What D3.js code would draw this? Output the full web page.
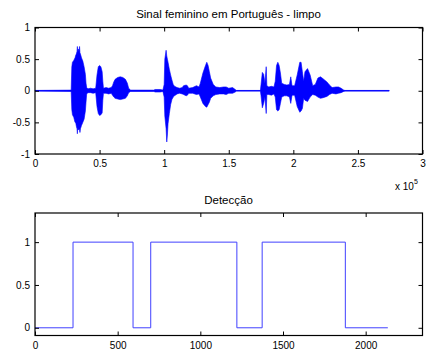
<!DOCTYPE html>
<html>
<head>
<meta charset="utf-8">
<script src="https://cdn.jsdelivr.net/npm/d3@7"></script>
<style>
  html, body { margin: 0; padding: 0; background: #fff; }
  svg { display: block; }
  text { font-family: "Liberation Sans", Arial, sans-serif; fill: #000; }
</style>
</head>
<body>
<svg id="fig" width="426" height="356"></svg>
<script>
// Signal envelope: position (x 10^5 samples), upper and lower amplitude
const WAVE_X = [0, 0.28, 0.285, 0.29, 0.30, 0.31, 0.315, 0.32, 0.325, 0.328, 0.331, 0.335, 0.34, 0.345, 0.348, 0.352, 0.36, 0.37, 0.38, 0.39, 0.395, 0.40,
  0.41, 0.43, 0.45, 0.47, 0.48, 0.49, 0.50, 0.51, 0.52, 0.525, 0.53, 0.55, 0.57, 0.59,
  0.60, 0.61, 0.62, 0.64, 0.66, 0.68, 0.70, 0.715, 0.725, 0.74, 0.92, 0.93, 0.97, 0.99,
  1.00, 1.005, 1.015, 1.02, 1.025, 1.03, 1.04, 1.05, 1.06, 1.07, 1.08, 1.10, 1.12, 1.14, 1.15, 1.17, 1.18, 1.19, 1.22, 1.25, 1.27,
  1.28, 1.30, 1.32, 1.33, 1.34, 1.35, 1.36, 1.38, 1.40, 1.43, 1.46, 1.48, 1.50, 1.53, 1.55, 1.56,
  1.745, 1.75, 1.76, 1.77, 1.78, 1.79, 1.795, 1.81, 1.83, 1.85, 1.86, 1.87, 1.88, 1.89, 1.90, 1.91, 1.93, 1.95, 1.97, 1.98, 1.99,
  2.01, 2.03, 2.05, 2.06, 2.07, 2.08, 2.09, 2.11, 2.13, 2.15, 2.17, 2.19, 2.21, 2.23, 2.26, 2.28, 2.30, 2.33, 2.35, 2.37, 2.39, 2.40, 2.742];
const WAVE_HI = [0.005, 0.01, 0.38, 0.45, 0.48, 0.52, 0.56, 0.58, 0.62, 0.70, 0.60, 0.66, 0.62, 0.70, 0.60, 0.58, 0.52, 0.47, 0.38, 0.26, 0.12, 0.05,
  0.03, 0.04, 0.03, 0.04, 0.25, 0.38, 0.40, 0.38, 0.30, 0.15, 0.04, 0.05, 0.04, 0.05,
  0.08, 0.14, 0.18, 0.21, 0.22, 0.21, 0.18, 0.12, 0.04, 0.01, 0.01, 0.02, 0.02, 0.01,
  0.10, 0.50, 0.64, 0.55, 0.50, 0.45, 0.34, 0.25, 0.17, 0.10, 0.07, 0.05, 0.04, 0.05, 0.08, 0.09, 0.08, 0.04, 0.05, 0.08, 0.06,
  0.12, 0.28, 0.40, 0.45, 0.40, 0.30, 0.20, 0.10, 0.06, 0.05, 0.06, 0.06, 0.04, 0.05, 0.02, 0.005,
  0.005, 0.10, 0.29, 0.26, 0.12, 0.38, 0.08, 0.06, 0.07, 0.06, 0.15, 0.40, 0.45, 0.40, 0.28, 0.12, 0.10, 0.09, 0.10, 0.22, 0.08,
  0.08, 0.25, 0.45, 0.45, 0.30, 0.15, 0.30, 0.35, 0.25, 0.08, 0.10, 0.20, 0.22, 0.19, 0.14, 0.09, 0.05, 0.06, 0.06, 0.04, 0.01, 0.005, 0.005];
const WAVE_LO = [-0.005, -0.01, -0.30, -0.38, -0.42, -0.50, -0.50, -0.56, -0.60, -0.68, -0.58, -0.62, -0.60, -0.62, -0.66, -0.60, -0.55, -0.50, -0.45, -0.32, -0.18, -0.05,
  -0.03, -0.03, -0.04, -0.03, -0.25, -0.36, -0.39, -0.38, -0.35, -0.15, -0.04, -0.04, -0.05, -0.04,
  -0.07, -0.10, -0.12, -0.13, -0.14, -0.13, -0.12, -0.08, -0.03, -0.01, -0.01, -0.02, -0.02, -0.01,
  -0.10, -0.40, -0.60, -0.81, -0.70, -0.52, -0.36, -0.22, -0.14, -0.10, -0.08, -0.05, -0.04, -0.05, -0.06, -0.08, -0.07, -0.04, -0.04, -0.06, -0.05,
  -0.10, -0.20, -0.25, -0.26, -0.22, -0.18, -0.12, -0.08, -0.06, -0.05, -0.05, -0.06, -0.04, -0.04, -0.02, -0.005,
  -0.005, -0.08, -0.27, -0.20, -0.10, -0.36, -0.06, -0.06, -0.07, -0.05, -0.10, -0.30, -0.32, -0.30, -0.20, -0.10, -0.08, -0.08, -0.10, -0.20, -0.07,
  -0.07, -0.25, -0.34, -0.32, -0.28, -0.12, -0.15, -0.17, -0.10, -0.06, -0.07, -0.10, -0.12, -0.11, -0.09, -0.06, -0.04, -0.05, -0.04, -0.03, -0.01, -0.005, -0.005];

// Voice activity detection per frame
const DET_X = [0, 230, 593, 700, 1221, 1374, 1877, 2134];
const DET_Y = [0, 1, 0, 1, 0, 1, 0, 0];

const TOP_XTICKS = [0, 0.5, 1, 1.5, 2, 2.5, 3];
const TOP_YTICKS = [-1, -0.5, 0, 0.5, 1];
const BOT_XTICKS = [0, 500, 1000, 1500, 2000];
const BOT_YTICKS = [0, 0.5, 1];

const TITLE_TOP = "Sinal feminino em Português - limpo";
const TITLE_BOT = "Detecção";

const svg = d3.select("#fig");
const FS = 10;
const FS_TITLE = 11.5;

function frame(g, x, y) {
  const [x0, x1] = x.range();
  const [y0, y1] = y.range();
  g.append("rect")
    .attr("x", x0).attr("y", y1)
    .attr("width", x1 - x0).attr("height", y0 - y1)
    .attr("fill", "none").attr("stroke", "#000").attr("stroke-width", 1.2);
}

function axes(g, x, y, xt, yt, xfmt, yfmt) {
  const [x0, x1] = x.range();
  const [y0, y1] = y.range();
  const styleAxis = a => {
    a.select(".domain").remove();
    a.selectAll("line").attr("stroke", "#000").attr("stroke-width", 1);
    a.selectAll("text").attr("font-size", FS).attr("font-family", "Liberation Sans, Arial, sans-serif");
  };
  g.append("g").attr("transform", `translate(0,${y0})`)
    .call(d3.axisBottom(x).tickValues(xt).tickFormat(xfmt).tickSizeInner(-4).tickSizeOuter(0).tickPadding(6))
    .call(styleAxis);
  g.append("g").attr("transform", `translate(0,${y1})`)
    .call(d3.axisTop(x).tickValues(xt).tickFormat("").tickSizeInner(-4).tickSizeOuter(0))
    .call(styleAxis);
  g.append("g").attr("transform", `translate(${x0},0)`)
    .call(d3.axisLeft(y).tickValues(yt).tickFormat(yfmt).tickSizeInner(-4).tickSizeOuter(0).tickPadding(5))
    .call(styleAxis);
  g.append("g").attr("transform", `translate(${x1},0)`)
    .call(d3.axisRight(y).tickValues(yt).tickFormat("").tickSizeInner(-4).tickSizeOuter(0))
    .call(styleAxis);
  frame(g, x, y);
}

const fmt = d => String(d);

// ---- Top: waveform ----
const xT = d3.scaleLinear().domain([0, 3]).range([35, 422.5]);
const yT = d3.scaleLinear().domain([-1, 1]).range([154, 27.5]);
const gT = svg.append("g");

const wave = WAVE_X.map((v, i) => ({ x: v, hi: WAVE_HI[i], lo: WAVE_LO[i] }));
gT.append("path")
  .datum(wave)
  .attr("d", d3.area().x(d => xT(d.x)).y0(d => yT(d.lo)).y1(d => yT(d.hi)))
  .attr("fill", "#0000ff")
  .attr("stroke", "#0000ff")
  .attr("stroke-width", 0.6);
gT.append("path")
  .datum(wave)
  .attr("d", d3.line().x(d => xT(d.x)).y(() => yT(0)))
  .attr("fill", "none").attr("stroke", "#0000ff").attr("stroke-width", 1);

axes(gT, xT, yT, TOP_XTICKS, TOP_YTICKS, fmt, fmt);

svg.append("text").attr("x", 228.5).attr("y", 17.5).attr("text-anchor", "middle")
  .attr("font-size", FS_TITLE).text(TITLE_TOP);
const expo = svg.append("text").attr("x", 395).attr("y", 189.5).attr("font-size", FS);
expo.append("tspan").text("x 10");
expo.append("tspan").attr("font-size", 7).attr("dy", -6).text("5");

// ---- Bottom: detection ----
const xB = d3.scaleLinear().domain([0, 3e5 / 128]).range([35, 422.5]);
const yB = d3.scaleLinear().domain([-0.09, 1.34]).range([335.5, 213]);
const gB = svg.append("g");

const det = DET_X.map((v, i) => ({ x: v, y: DET_Y[i] }));
gB.append("path")
  .datum(det)
  .attr("d", d3.line().curve(d3.curveStepAfter).x(d => xB(d.x)).y(d => yB(d.y)))
  .attr("fill", "none").attr("stroke", "#4040ff").attr("stroke-width", 1);

axes(gB, xB, yB, BOT_XTICKS, BOT_YTICKS, fmt, fmt);

svg.append("text").attr("x", 228.5).attr("y", 203.5).attr("text-anchor", "middle")
  .attr("font-size", FS_TITLE).text(TITLE_BOT);
</script>
</body>
</html>
